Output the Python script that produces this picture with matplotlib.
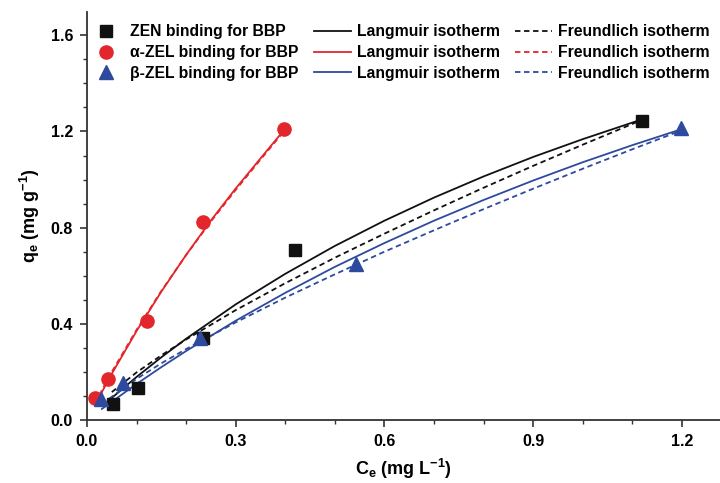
import numpy as np
import matplotlib
matplotlib.use("Agg")
import matplotlib.pyplot as plt
from matplotlib.ticker import MultipleLocator

plt.rcParams['font.family'] = ['Liberation Sans', 'DejaVu Sans']
plt.rcParams['mathtext.fontset'] = 'custom'
plt.rcParams['mathtext.rm'] = 'Liberation Sans:bold'
plt.rcParams['mathtext.it'] = 'Liberation Sans:bold'
plt.rcParams['mathtext.default'] = 'rm'

# measured points (Ce, qe)
zen_ce = [0.053, 0.103, 0.235, 0.420, 1.120]
zen_qe = [0.066, 0.133, 0.340, 0.707, 1.243]
a_zel_ce = [0.016, 0.043, 0.121, 0.234, 0.397]
a_zel_qe = [0.090, 0.170, 0.410, 0.823, 1.210]
b_zel_ce = [0.029, 0.072, 0.228, 0.543, 1.199]
b_zel_qe = [0.087, 0.155, 0.342, 0.648, 1.214]

# fitted isotherm curves
zen_fit_ce = [0.05, 0.1, 0.15, 0.2, 0.3, 0.4, 0.5, 0.6, 0.7, 0.8, 0.9, 1.0, 1.116]
zen_lang = [0.092, 0.179, 0.261, 0.338, 0.481, 0.608, 0.724, 0.829, 0.925, 1.013, 1.094, 1.168, 1.248]
zen_freu = [0.116, 0.198, 0.269, 0.335, 0.457, 0.569, 0.675, 0.775, 0.872, 0.966, 1.057, 1.145, 1.245]

a_fit_ce = [0.016, 0.05, 0.1, 0.15, 0.2, 0.25, 0.3, 0.35, 0.397]
a_lang = [0.063, 0.192, 0.370, 0.534, 0.687, 0.830, 0.963, 1.088, 1.205]
a_freu = [0.070, 0.200, 0.375, 0.537, 0.686, 0.826, 0.957, 1.083, 1.200]

b_fit_ce = [0.03, 0.1, 0.15, 0.2, 0.3, 0.4, 0.5, 0.6, 0.7, 0.8, 0.9, 1.0, 1.1, 1.2]
b_lang = [0.046, 0.150, 0.220, 0.287, 0.413, 0.529, 0.637, 0.736, 0.829, 0.915, 0.996, 1.072, 1.143, 1.210]
b_freu = [0.067, 0.171, 0.236, 0.295, 0.406, 0.509, 0.606, 0.700, 0.789, 0.877, 0.962, 1.045, 1.126, 1.205]

black = '#111111'
red = '#e3262b'
blue = '#2e4a9e'

fig = plt.figure(figsize=(7.2, 4.83), dpi=100)
ax = fig.add_axes([87 / 720, 1 - 420 / 483, 633 / 720, 408 / 483])

lw = 1.3
ax.plot(zen_ce, zen_qe, 's', color=black, ms=8, zorder=5, label='ZEN binding for BBP')
ax.plot(zen_fit_ce, zen_lang, '-', color=black, lw=lw, label='Langmuir isotherm')
ax.plot(zen_fit_ce, zen_freu, '--', color=black, lw=lw, dashes=(3, 2), label='Freundlich isotherm')

ax.plot(a_zel_ce, a_zel_qe, 'o', color=red, ms=9.5, zorder=5, label='\u03b1-ZEL binding for BBP')
ax.plot(a_fit_ce, a_lang, '-', color=red, lw=lw, label='Langmuir isotherm')
ax.plot(a_fit_ce, a_freu, '--', color=red, lw=lw, dashes=(3, 2), label='Freundlich isotherm')

ax.plot(b_zel_ce, b_zel_qe, '^', color=blue, ms=10, zorder=5, label='\u03b2-ZEL binding for BBP')
ax.plot(b_fit_ce, b_lang, '-', color=blue, lw=lw, label='Langmuir isotherm')
ax.plot(b_fit_ce, b_freu, '--', color=blue, lw=lw, dashes=(3, 2), label='Freundlich isotherm')

ax.set_xlim(0, 1.277)
ax.set_ylim(0, 1.697)
ax.xaxis.set_major_locator(MultipleLocator(0.3))
ax.xaxis.set_minor_locator(MultipleLocator(0.1))
ax.yaxis.set_major_locator(MultipleLocator(0.4))
ax.yaxis.set_minor_locator(MultipleLocator(0.1))
ax.xaxis.set_major_formatter(lambda v, p: f"{v:.1f}")
ax.yaxis.set_major_formatter(lambda v, p: f"{v:.1f}")

for s in ['top', 'right']:
    ax.spines[s].set_visible(False)
for s in ['left', 'bottom']:
    ax.spines[s].set_color('#333333')
    ax.spines[s].set_linewidth(1.3)
ax.tick_params(which='major', direction='out', length=5, width=1.2, color='#333333',
               labelsize=11.5, pad=5)
ax.tick_params(which='minor', direction='out', length=3, width=1.0, color='#333333')
for lab in ax.get_xticklabels() + ax.get_yticklabels():
    lab.set_fontweight('bold')

ax.set_xlabel('C$_e$ (mg L$^{-1}$)', fontsize=13, fontweight='bold', labelpad=6)
ax.set_ylabel('q$_e$ (mg g$^{-1}$)', fontsize=13, fontweight='bold', labelpad=6)

# legend: markers in first column, Langmuir in second, Freundlich in third
h, l = ax.get_legend_handles_labels()
order = [0, 3, 6, 1, 4, 7, 2, 5, 8]
fig.legend([h[i] for i in order], [l[i] for i in order], ncol=3, frameon=False,
           loc='upper left', bbox_to_anchor=(81 / 720, 1 - 18 / 483),
           prop={'weight': 'bold', 'size': 11.3}, handlelength=2.35,
           handletextpad=0.4, columnspacing=0.95, labelspacing=0.37,
           borderpad=0.4, borderaxespad=0)

fig.savefig('out.png', dpi=100)
